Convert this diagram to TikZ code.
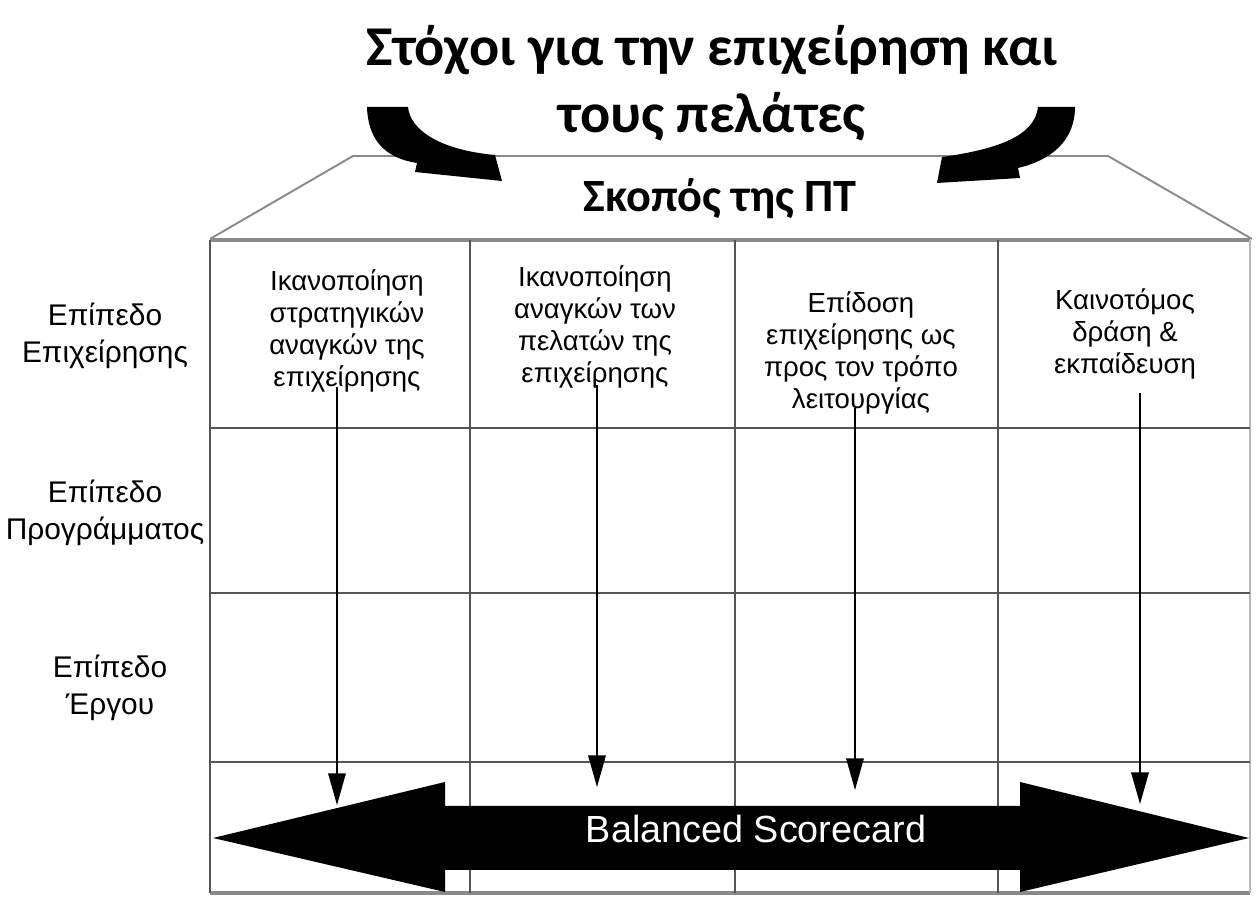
\documentclass[tikz,border=0pt]{standalone}
\usepackage{fontspec}
\setmainfont{Liberation Sans}
\newfontfamily\headfont{Carlito}
\usetikzlibrary{arrows.meta,positioning}
\definecolor{rule}{HTML}{555555}
\definecolor{edge}{HTML}{8A8A8A}

\begin{document}
\begin{tikzpicture}[scale=1.0,
  gridline/.style={rule,line width=1.5pt},
  frameline/.style={edge,line width=2.2pt},
  roofline/.style={edge,line width=1.1pt},
  celltext/.style={align=center,font=\fontsize{15.7}{18.2}\selectfont},
  levellabel/.style={align=center,font=\fontsize{17}{21}\selectfont},
  downarrow/.style={black,line width=0.8pt,-{Triangle[length=18pt,width=10pt]}}]
\useasboundingbox (0,0) rectangle (25.14,18.02);

% table
\draw[frameline] (4.2,13.22) -- (25.0,13.22);
\draw[frameline] (4.2,0.16) -- (25.0,0.16);
\foreach \x in {4.2,9.4,14.7,19.96}
  \draw[gridline] (\x,13.22) -- (\x,0.16);
\draw[edge!60,line width=1.2pt] (25.0,13.22) -- (25.0,0.16);
\foreach \y in {9.46,6.16,2.78}
  \draw[gridline] (4.2,\y) -- (25.0,\y);

% roof
\draw[roofline] (4.2,13.24) -- (7.06,14.9) -- (22.16,14.9) -- (25.04,13.24);
\node[font=\headfont\bfseries\fontsize{26.3}{30}\selectfont,anchor=base] (aim) at (14.4,13.78) {Σκοπός της ΠΤ};

% levels
\node[levellabel] (lvlbiz) at (2.1,11.3) {Επίπεδο\\Επιχείρησης};
\node[levellabel] (lvlprog) at (2.1,7.76) {Επίπεδο\\Προγράμματος};
\node[levellabel] (lvlproj) at (2.2,4.26) {Επίπεδο\\Έργου};

% perspectives
\node[celltext] (strat) at (6.94,11.4) {Ικανοποίηση\\στρατηγικών\\αναγκών της\\επιχείρησης};
\node[celltext] (cust) at (11.9,11.48) {Ικανοποίηση\\αναγκών των\\πελατών της\\επιχείρησης};
\node[celltext] (perf) at (17.22,10.96) {Επίδοση\\επιχείρησης ως\\προς τον τρόπο\\λειτουργίας};
\node[celltext] (innov) at (22.5,11.34) {Καινοτόμος\\δράση \&\\εκπαίδευση};

\foreach \x/\ys/\ye [count=\i] in {6.74/10.28/1.92, 11.94/10.32/2.28, 17.1/9.86/2.22, 22.8/10.16/1.94}{
  \coordinate (top\i) at (\x,\ys);
  \coordinate (tip\i) at (\x,\ye);
  \draw[downarrow] (top\i) -- (tip\i);
}

% scorecard arrow
\fill (4.26,1.26) -- (8.9,2.38) -- (8.9,1.9) -- (20.4,1.9) -- (20.4,2.38) -- (24.98,1.26)
  -- (20.4,0.18) -- (20.4,0.62) -- (8.9,0.62) -- (8.9,0.18) -- cycle;
\node[white,font=\fontsize{21.5}{24}\selectfont] (bsc) at (15.12,1.44) {Balanced Scorecard};

% curved arrows
\fill (7.34,15.88) .. controls (7.36,15.22) and (7.70,14.86) .. (8.34,14.76)
  -- (8.30,14.58) -- (10.04,14.40) -- (9.90,14.92)
  .. controls (8.80,15.02) and (8.20,15.42) .. (8.16,15.88) -- cycle;
\fill (21.50,15.88) .. controls (21.50,15.22) and (21.04,14.82) .. (20.36,14.66)
  -- (20.40,14.46) -- (18.74,14.36) -- (18.84,14.88)
  .. controls (20.00,15.04) and (20.70,15.32) .. (20.76,15.88) -- cycle;

% title
\node[font=\headfont\bfseries\fontsize{32}{38}\selectfont,align=center] (goals) at (14.24,16.36) {Στόχοι για την επιχείρηση και\\τους πελάτες};
\end{tikzpicture}
\end{document}
